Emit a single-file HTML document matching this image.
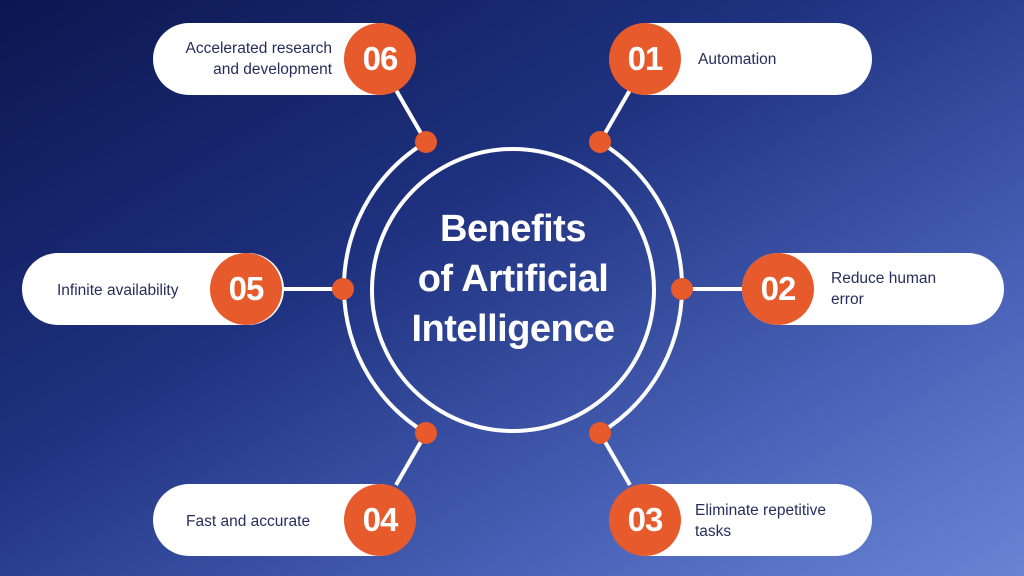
<!DOCTYPE html>
<html><head><meta charset="utf-8"><style>
body{margin:0;width:1024px;height:576px;overflow:hidden;font-family:"Liberation Sans",sans-serif;}
.bg{position:absolute;left:0;top:0;width:1024px;height:576px;background:linear-gradient(150deg,#0c1650 0%,#1f3280 40%,#4a63b8 75%,#6a84d4 100%);}
.pill{position:absolute;height:72px;width:262px;border-radius:36px;background:#fff;}
.num{position:absolute;width:72px;height:72px;border-radius:50%;background:#e65a2c;color:#fff;font-weight:bold;font-size:33px;line-height:72px;text-align:center;letter-spacing:-1px;}
.lbl{position:absolute;color:#262d5c;font-size:15.5px;line-height:21px;}
</style></head><body>
<div class="bg"></div>
<svg width="1024" height="576" style="position:absolute;left:0;top:0">
<g stroke="#fff" stroke-width="4" fill="none">
<circle cx="513" cy="290" r="141"/>
<path d="M426 142 A170 170 0 0 0 426 433"/>
<path d="M600 142 A170 170 0 0 1 600 433"/>
<line x1="426" y1="142" x2="396" y2="90"/>
<line x1="600" y1="142" x2="630" y2="90"/>
<line x1="426" y1="433" x2="396" y2="485"/>
<line x1="600" y1="433" x2="630" y2="485"/>
<line x1="283" y1="289" x2="343" y2="289"/>
<line x1="682" y1="289" x2="742" y2="289"/>
</g>
<g fill="#e65a2c">
<circle cx="426" cy="142" r="11"/><circle cx="600" cy="142" r="11"/>
<circle cx="426" cy="433" r="11"/><circle cx="600" cy="433" r="11"/>
<circle cx="343" cy="289" r="11"/><circle cx="682" cy="289" r="11"/>
</g>
<g fill="#fff" font-family="Liberation Sans" font-weight="bold" font-size="38" text-anchor="middle" letter-spacing="-0.5">
<text x="513" y="241">Benefits</text>
<text x="513" y="291">of Artificial</text>
<text x="513" y="341">Intelligence</text>
</g>
</svg>
<div class="pill" style="left:153px;top:23px"></div>
<div class="pill" style="left:610px;top:23px"></div>
<div class="pill" style="left:22px;top:253px"></div>
<div class="pill" style="left:742px;top:253px"></div>
<div class="pill" style="left:153px;top:484px"></div>
<div class="pill" style="left:610px;top:484px"></div>
<div class="num" style="left:344px;top:23px">06</div>
<div class="num" style="left:609px;top:23px">01</div>
<div class="num" style="left:210px;top:253px">05</div>
<div class="num" style="left:742px;top:253px">02</div>
<div class="num" style="left:344px;top:484px">04</div>
<div class="num" style="left:609px;top:484px">03</div>
<div class="lbl" style="left:166px;top:38px;width:166px;text-align:right">Accelerated research<br>and development</div>
<div class="lbl" style="left:698px;top:49px">Automation</div>
<div class="lbl" style="left:57px;top:280px">Infinite availability</div>
<div class="lbl" style="left:831px;top:268px">Reduce human<br>error</div>
<div class="lbl" style="left:186px;top:511px">Fast and accurate</div>
<div class="lbl" style="left:695px;top:500px">Eliminate repetitive<br>tasks</div>
</body></html>
